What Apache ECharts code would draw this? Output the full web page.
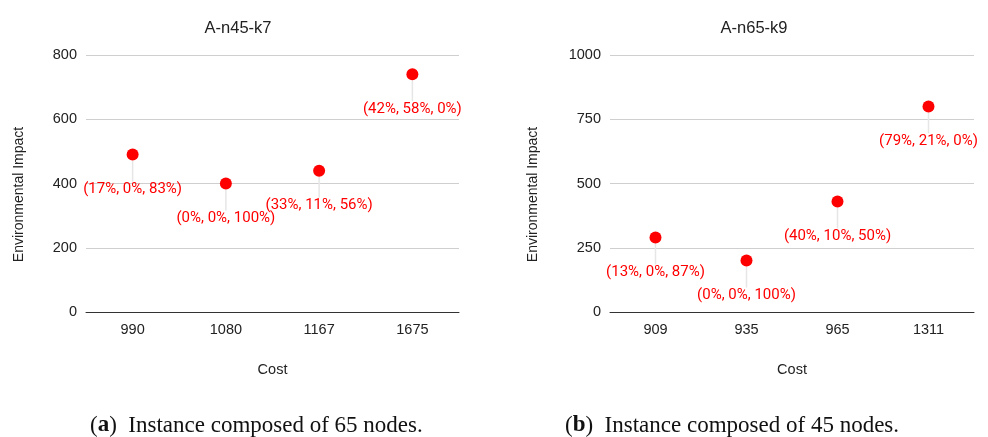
<!DOCTYPE html>
<html>
<head>
<meta charset="utf-8">
<script src="https://cdn.jsdelivr.net/npm/echarts@6/dist/echarts.min.js"></script>
<style>
  html, body { margin: 0; padding: 0; background: #fff; }
  #chart { width: 988px; height: 437px; }
</style>
</head>
<body>
<div id="chart"></div>
<script>
// left panel: A-n45-k7
const costsA = ["990", "1080", "1167", "1675"];
const impactA = [490, 400, 440, 740];
const mixA = ["(17%, 0%, 83%)", "(0%, 0%, 100%)", "(33%, 11%, 56%)", "(42%, 58%, 0%)"];

// right panel: A-n65-k9
const costsB = ["909", "935", "965", "1311"];
const impactB = [290, 200, 430, 800];
const mixB = ["(13%, 0%, 87%)", "(0%, 0%, 100%)", "(40%, 10%, 50%)", "(79%, 21%, 0%)"];

const chart = echarts.init(document.getElementById("chart"));

const axisFont = "Liberation Sans, Arial, sans-serif";

function xAxisFor(idx, cats) {
  return {
    type: "category",
    gridIndex: idx,
    data: cats,
    boundaryGap: true,
    axisTick: { show: false },
    axisLine: { show: true, lineStyle: { color: "#333", width: 1 } },
    axisLabel: { color: "#222", fontSize: 14.5, fontFamily: axisFont, margin: 10 },
    name: "Cost",
    nameLocation: "middle",
    nameGap: 50,
    nameTextStyle: { color: "#222", fontSize: 14.5, fontFamily: axisFont }
  };
}

function yAxisFor(idx, max, step, gap) {
  return {
    type: "value",
    gridIndex: idx,
    min: 0,
    max: max,
    interval: step,
    axisTick: { show: false },
    axisLine: { show: false },
    splitLine: { lineStyle: { color: "#cfcfcf" } },
    axisLabel: { color: "#222", fontSize: 14.5, fontFamily: axisFont, margin: 9,
      formatter: function (v) { return String(v); } },
    name: "Environmental Impact",
    nameLocation: "middle",
    nameGap: gap,
    nameTextStyle: { color: "#222", fontSize: 14, fontFamily: axisFont, padding: [0, 22, 0, 0] }
  };
}

function pointsFor(idx, vals, mix) {
  return {
    type: "scatter",
    xAxisIndex: idx,
    yAxisIndex: idx,
    symbolSize: 12,
    itemStyle: { color: "#ff0000", opacity: 1 },
    data: vals,
    label: {
      show: true,
      position: "bottom",
      distance: 4,
      color: "#ff0000",
      fontSize: 15,
      fontFamily: "Roboto, sans-serif",
      formatter: function (p) { return mix[p.dataIndex]; }
    },
    labelLayout: { dy: 17 },
    labelLine: { show: true, lineStyle: { color: "#e6e6e6", width: 1.5 } }
  };
}

const captionStyle = {
  fontSize: 23, fontWeight: "normal", color: "#111", fontFamily: "Liberation Serif, serif",
  rich: { b: { fontSize: 23, fontWeight: "bold", color: "#111", fontFamily: "Liberation Serif, serif" } }
};

const option = {
  animation: false,
  title: [
    { text: "A-n45-k7", left: 233, top: 15, textAlign: "center",
      textStyle: { fontSize: 16.5, fontWeight: "normal", color: "#222", fontFamily: axisFont } },
    { text: "A-n65-k9", left: 749, top: 15, textAlign: "center",
      textStyle: { fontSize: 16.5, fontWeight: "normal", color: "#222", fontFamily: axisFont } },
    { text: "({b|a})  Instance composed of 65 nodes.", left: 85, top: 409, textStyle: captionStyle },
    { text: "({b|b})  Instance composed of 45 nodes.", left: 560, top: 409, textStyle: captionStyle }
  ],
  grid: [
    { left: 86, top: 55, width: 373, height: 257 },
    { left: 610, top: 55, width: 364, height: 257 }
  ],
  xAxis: [xAxisFor(0, costsA), xAxisFor(1, costsB)],
  yAxis: [yAxisFor(0, 800, 200, 60), yAxisFor(1, 1000, 250, 70)],
  series: [pointsFor(0, impactA, mixA), pointsFor(1, impactB, mixB)]
};

chart.setOption(option);
</script>
</body>
</html>
